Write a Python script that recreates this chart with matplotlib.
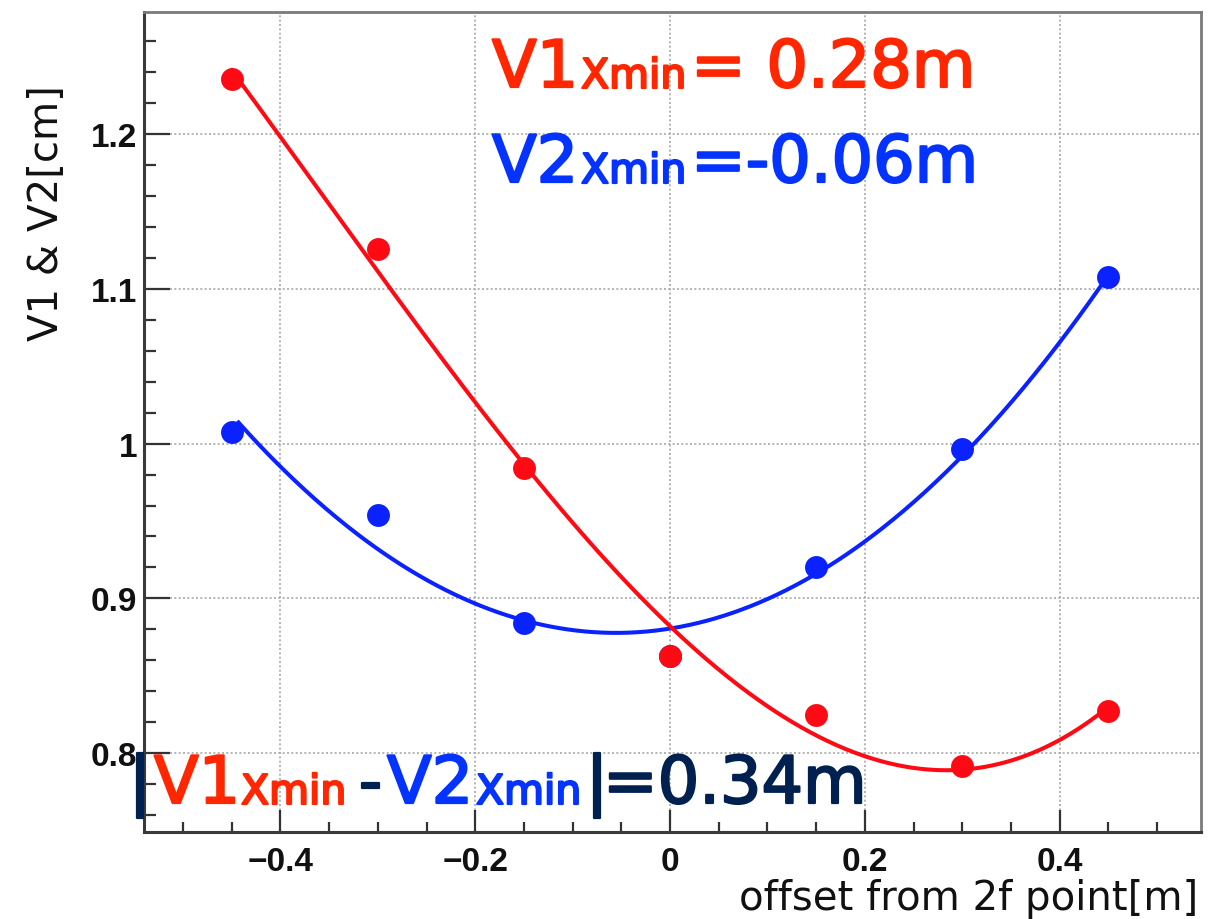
import numpy as np
import matplotlib
matplotlib.use("Agg")
import matplotlib.pyplot as plt
import matplotlib.patheffects as pe
from matplotlib.ticker import MultipleLocator, FuncFormatter

# Measured beam sizes versus offset from the 2f point
offset = [-0.45, -0.30, -0.15, 0.00, 0.15, 0.30, 0.45]
v1 = [1.2355, 1.1258, 0.9845, 0.8630, 0.8245, 0.7916, 0.8271]
v2 = [1.0077, 0.9542, 0.8839, 0.8630, 0.9206, 0.9968, 1.1077]

x_ticks = [-0.4, -0.2, 0.0, 0.2, 0.4]
y_ticks = [0.8, 0.9, 1.0, 1.1, 1.2]

RED_MARK = "#ff0a14"
BLUE_MARK = "#0a22ff"
RED_TXT = "#ff2600"
BLUE_TXT = "#0433ff"
NAVY = "#00214f"

W, H = 1220, 920
fig = plt.figure(figsize=(W / 100, H / 100), dpi=100)
ax = fig.add_axes([144 / W, 1 - 833 / H, (1201 - 144) / W, (833 - 13) / H])

# polynomial fits (cubic for V1, parabola for V2)
p1 = np.polyfit(offset, v1, 3)
p2 = np.polyfit(offset, v2, 2)
xf1 = np.linspace(-0.45, 0.45, 400)
xf2 = np.linspace(-0.443, 0.45, 400)

ax.plot(xf2, np.polyval(p2, xf2), color=BLUE_MARK, lw=2.9, zorder=3)
ax.plot(offset, v2, "o", color=BLUE_MARK, ms=16.5, mec="none", zorder=4)
ax.plot(xf1, np.polyval(p1, xf1), color=RED_MARK, lw=2.9, zorder=5)
ax.plot(offset, v1, "o", color=RED_MARK, ms=16.5, mec="none", zorder=6)

ax.set_xlim(-0.54, 0.545)
ax.set_ylim(0.749, 1.279)

ax.xaxis.set_minor_locator(MultipleLocator(0.05))
ax.yaxis.set_minor_locator(MultipleLocator(0.02))
ax.set_xticks(x_ticks)
ax.set_yticks(y_ticks)


def fmt(v, pos):
    if abs(v) < 1e-9:
        return "0"
    s = ("%.1f" % v).replace("-", "\u2212")
    if s == "1.0":
        return "1"
    return s


ax.xaxis.set_major_formatter(FuncFormatter(fmt))
ax.yaxis.set_major_formatter(FuncFormatter(fmt))

for lab in ax.get_xticklabels() + ax.get_yticklabels():
    lab.set_fontfamily("Liberation Sans")
    lab.set_fontweight("bold")
    lab.set_fontsize(24)
    lab.set_color("#111111")

ax.tick_params(axis="x", which="major", direction="in", length=16, width=1.6,
               pad=10, color="#333333", top=False)
ax.tick_params(axis="x", which="minor", direction="in", length=7, width=1.6,
               color="#333333", top=False)
ax.tick_params(axis="y", which="major", direction="in", length=19, width=1.6,
               pad=5, color="#333333", right=False)
ax.tick_params(axis="y", which="minor", direction="in", length=8.5, width=1.6,
               color="#333333", right=False)

ax.grid(True, which="major", color="#a8a8a8", lw=1.2, ls=(0, (1.2, 1.4)))
ax.set_axisbelow(True)
for side in ["left", "bottom"]:
    ax.spines[side].set_color("#3a3a3a")
    ax.spines[side].set_linewidth(2.2)
for side in ["right", "top"]:
    ax.spines[side].set_color("#7a7a7a")
    ax.spines[side].set_linewidth(2.0)

ax.set_xlabel("offset from 2f point[m]", family="DejaVu Sans", fontsize=29,
              ha="right", va="center", color="#111111")
ax.xaxis.set_label_coords((1198 - 144) / 1057, (833 - 899) / 820)
ax.set_ylabel("V1 & V2[cm]", family="DejaVu Sans", fontsize=29,
              ha="center", va="center", color="#111111")
ax.yaxis.set_label_coords((47 - 144) / 1057, (833 - 213) / 820)

BIG = 47
SUB = 29.5


def put(xp, yp, s, size, color):
    t = fig.text(xp / W, 1 - yp / H, s, fontsize=size, color=color,
                 family="DejaVu Sans", ha="left", va="baseline")
    t.set_path_effects([pe.withStroke(linewidth=1.6, foreground=color)])


# fitted minimum positions
put(492, 88, "V1", BIG, RED_TXT)
put(581, 89, "Xmin", SUB, RED_TXT)
put(691, 88, "= 0.28m", BIG, RED_TXT)

put(492, 183, "V2", BIG, BLUE_TXT)
put(581, 184, "Xmin", SUB, BLUE_TXT)
put(691, 183, "=-0.06m", BIG, BLUE_TXT)

# separation between the two minima
put(129, 804, "|", BIG, NAVY)
put(154, 804, "V1", BIG, RED_TXT)
put(241, 805, "Xmin", SUB, RED_TXT)
put(359, 804, "-", BIG, NAVY)
put(387, 804, "V2", BIG, BLUE_TXT)
put(476, 805, "Xmin", SUB, BLUE_TXT)
put(586, 804, "|", BIG, NAVY)
put(603, 804, "=0.34m", BIG, NAVY)

fig.savefig("out.png", dpi=100)
